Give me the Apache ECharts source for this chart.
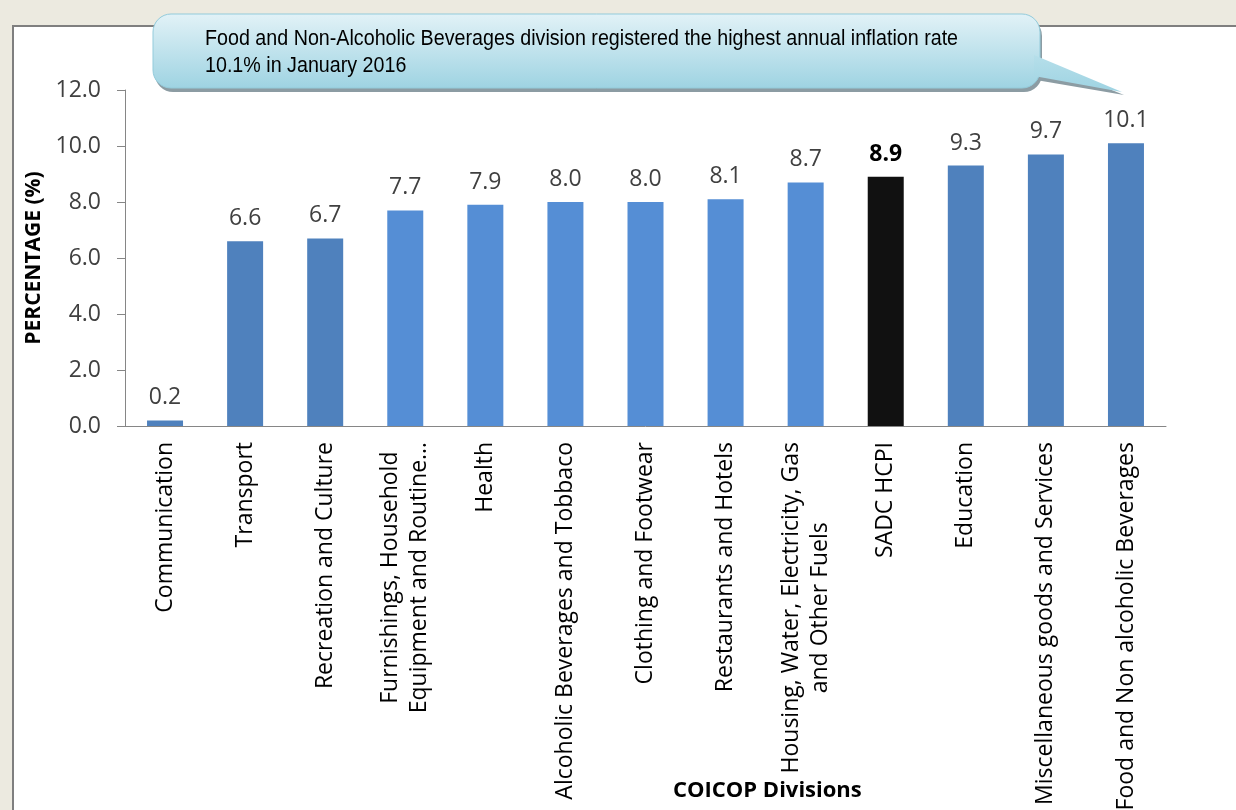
<!DOCTYPE html>
<html>
<head>
<meta charset="utf-8">
<script src="https://cdn.jsdelivr.net/npm/echarts@6/dist/echarts.min.js"></script>
<style>
  html, body { margin: 0; padding: 0; background: #eceae0; }
  #chart { width: 1236px; height: 810px; }
</style>
</head>
<body>
<div id="chart"></div>
<script>
// 数据
const categories = [
  'Communication', 'Transport', 'Recreation and Culture',
  'Furnishings, Household\nEquipment and Routine…', 'Health',
  'Alcoholic Beverages and Tobbaco', 'Clothing and Footwear',
  'Restaurants and Hotels', 'Housing, Water, Electricity, Gas\nand Other Fuels',
  'SADC HCPI', 'Education', 'Miscellaneous goods and Services',
  'Food and Non alcoholic Beverages'
];
const values = [0.2, 6.6, 6.7, 7.7, 7.9, 8.0, 8.0, 8.1, 8.7, 8.9, 9.3, 9.7, 10.1];
const barColors = [
  '#4f81bd', '#4f81bd', '#4f81bd', '#558ed5', '#558ed5', '#558ed5', '#558ed5',
  '#558ed5', '#558ed5', '#111111', '#4f81bd', '#4f81bd', '#4f81bd'
];
const yTicks = [0, 2, 4, 6, 8, 10, 12];
const calloutText = 'Food and Non-Alcoholic Beverages division registered the highest annual inflation rate\n10.1% in January 2016';

const font = '"Open Sans", "Noto Sans", sans-serif';
const chart = echarts.init(document.getElementById('chart'));

const calloutFill = {
  type: 'linear', x: 0, y: 0, x2: 0, y2: 1,
  colorStops: [
    { offset: 0, color: '#e2f2f7' },
    { offset: 1, color: '#9ed3e2' }
  ]
};

const option = {
  backgroundColor: '#eceae0',
  animation: false,
  grid: { left: 125, right: 70, top: 90, bottom: 384, containLabel: false, outerBoundsMode: 'none' },
  xAxis: {
    type: 'category',
    data: categories,
    axisLine: { lineStyle: { color: '#868686', width: 1 } },
    axisTick: { show: false },
    axisLabel: {
      interval: 0,
      rotate: 90,
      margin: 16,
      fontFamily: font,
      fontSize: 23,
      color: '#000',
      formatter: v => v.split('\n').map(s => '{c|' + s + '}').join('\n'),
      rich: { c: { align: 'center', fontFamily: font, fontSize: 23, color: '#000', lineHeight: 29 } }
    }
  },
  yAxis: {
    type: 'value',
    min: yTicks[0],
    max: yTicks[yTicks.length - 1],
    interval: 2,
    name: 'PERCENTAGE (%)',
    nameLocation: 'middle',
    nameGap: 80,
    nameTextStyle: { fontFamily: font, fontSize: 21, fontWeight: 'bold', color: '#000' },
    axisLine: { show: true, lineStyle: { color: '#868686' } },
    axisTick: { show: true, length: 8, lineStyle: { color: '#868686' } },
    splitLine: { show: false },
    axisLabel: {
      margin: 24,
      fontFamily: font,
      fontSize: 23,
      color: '#404040',
      formatter: v => v.toFixed(1)
    }
  },
  series: [{
    type: 'bar',
    barWidth: 36,
    data: values.map((v, i) => ({
      value: v,
      itemStyle: { color: barColors[i] },
      label: i === 9 ? { fontWeight: 'bold', color: '#000' } : undefined
    })),
    label: {
      show: true,
      position: 'top',
      distance: 11,
      fontFamily: font,
      fontSize: 23,
      color: '#404040',
      formatter: p => p.value.toFixed(1)
    }
  }],
  graphic: [
    // 白色面板
    {
      type: 'rect', z: -10, silent: true,
      shape: { x: 13, y: 26, width: 1240, height: 800 },
      style: { fill: '#fff', stroke: '#7f7f7f', lineWidth: 2 }
    },
    // 标注框阴影
    {
      type: 'rect', z: 10, silent: true,
      shape: { x: 155, y: 18, width: 887, height: 74, r: 18 },
      style: { fill: '#8c9ca3' }
    },
    {
      type: 'polygon', z: 10, silent: true,
      shape: { points: [[1036, 59], [1124, 95], [1036, 80]] },
      style: { fill: '#8c9ca3' }
    },
    // 标注框
    {
      type: 'rect', z: 11, silent: true,
      shape: { x: 153, y: 14, width: 887, height: 74, r: 18 },
      style: { fill: calloutFill, stroke: '#93cbdb', lineWidth: 1 }
    },
    {
      type: 'polygon', z: 12, silent: true,
      shape: { points: [[1034, 55], [1122, 92], [1034, 76]] },
      style: {
        fill: {
          type: 'linear', x: 0, y: 0, x2: 0, y2: 1,
          colorStops: [
            { offset: 0, color: '#b6dfea' },
            { offset: 1, color: '#9ed3e2' }
          ]
        }
      }
    },
    {
      type: 'text', z: 13, silent: true,
      left: 205, top: 25,
      scaleX: 0.895,
      style: {
        text: calloutText,
        font: '22px "Liberation Sans", Arial, sans-serif',
        lineHeight: 27,
        fill: '#000'
      }
    },
    // x 轴标题
    {
      type: 'text', silent: true,
      left: 673, top: 780,
      style: {
        text: 'COICOP Divisions',
        font: 'bold 22px ' + font,
        fill: '#000'
      }
    }
  ]
};

chart.setOption(option);
</script>
</body>
</html>
